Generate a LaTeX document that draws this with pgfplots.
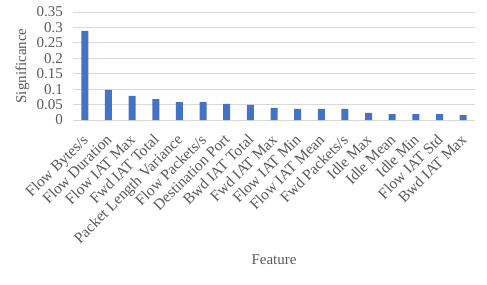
\documentclass[border=0pt]{standalone}
\usepackage{pgfplots}
\pgfplotsset{compat=1.18}
\usepackage{fontspec}
\setmainfont{Liberation Serif}
\definecolor{barblue}{HTML}{4472C4}
\definecolor{gridgray}{HTML}{D9D9D9}
\definecolor{txtgray}{HTML}{595959}
\begin{document}
\fontsize{15}{18}\selectfont
\begin{tikzpicture}[x=1pt,y=1pt]
\path[use as bounding box] (0,0) rectangle (487,284);
\begin{axis}[
  at={(73pt,164pt)}, anchor=south west,
  scale only axis, width=402pt, height=108pt,
  xmin=-0.5, xmax=16.5, ymin=0, ymax=0.35,
  ytick={0,0.05,0.1,0.15,0.2,0.25,0.3,0.35},
  /pgf/number format/assume math mode=true,
  /pgf/number format/fixed, /pgf/number format/precision=2,
  yticklabel style={font=\fontsize{15}{18}\selectfont, text=txtgray, xshift=-5pt},
  xtick=data,
  xticklabels={Flow Bytes/s, Flow Duration, Flow IAT Max, Fwd IAT Total, Packet Length Variance, Flow Packets/s, Destination Port, Bwd IAT Total, Fwd IAT Max, Flow IAT Min, Flow IAT Mean, Fwd Packets/s, Idle Max, Idle Mean, Idle Min, Flow IAT Std, Bwd IAT Max},
  xticklabel style={font=\fontsize{15.4}{18}\selectfont, text=txtgray, xshift=-3.5pt, yshift=-11.5pt, rotate=45, anchor=north east, inner sep=1pt},
  major tick length=0pt,
  axis line style={draw=none},
  ymajorgrids, grid style={gridgray, line width=1pt},
  ylabel={Significance}, xlabel={Feature},
  label style={font=\fontsize{15}{18}\selectfont, text=txtgray},
  ylabel style={at={(axis description cs:-0.1256,0.5)}, anchor=center},
  xlabel style={at={(axis description cs:0.5,-1.296)}, anchor=center},
]
\addplot[ybar, bar width=7pt, fill=barblue, draw=none] coordinates {
(0,0.289) (1,0.098) (2,0.078) (3,0.068) (4,0.058) (5,0.058) (6,0.052) (7,0.049)
(8,0.039) (9,0.036) (10,0.036) (11,0.036) (12,0.023) (13,0.019) (14,0.019) (15,0.019) (16,0.016)};
\end{axis}
\end{tikzpicture}
\end{document}
